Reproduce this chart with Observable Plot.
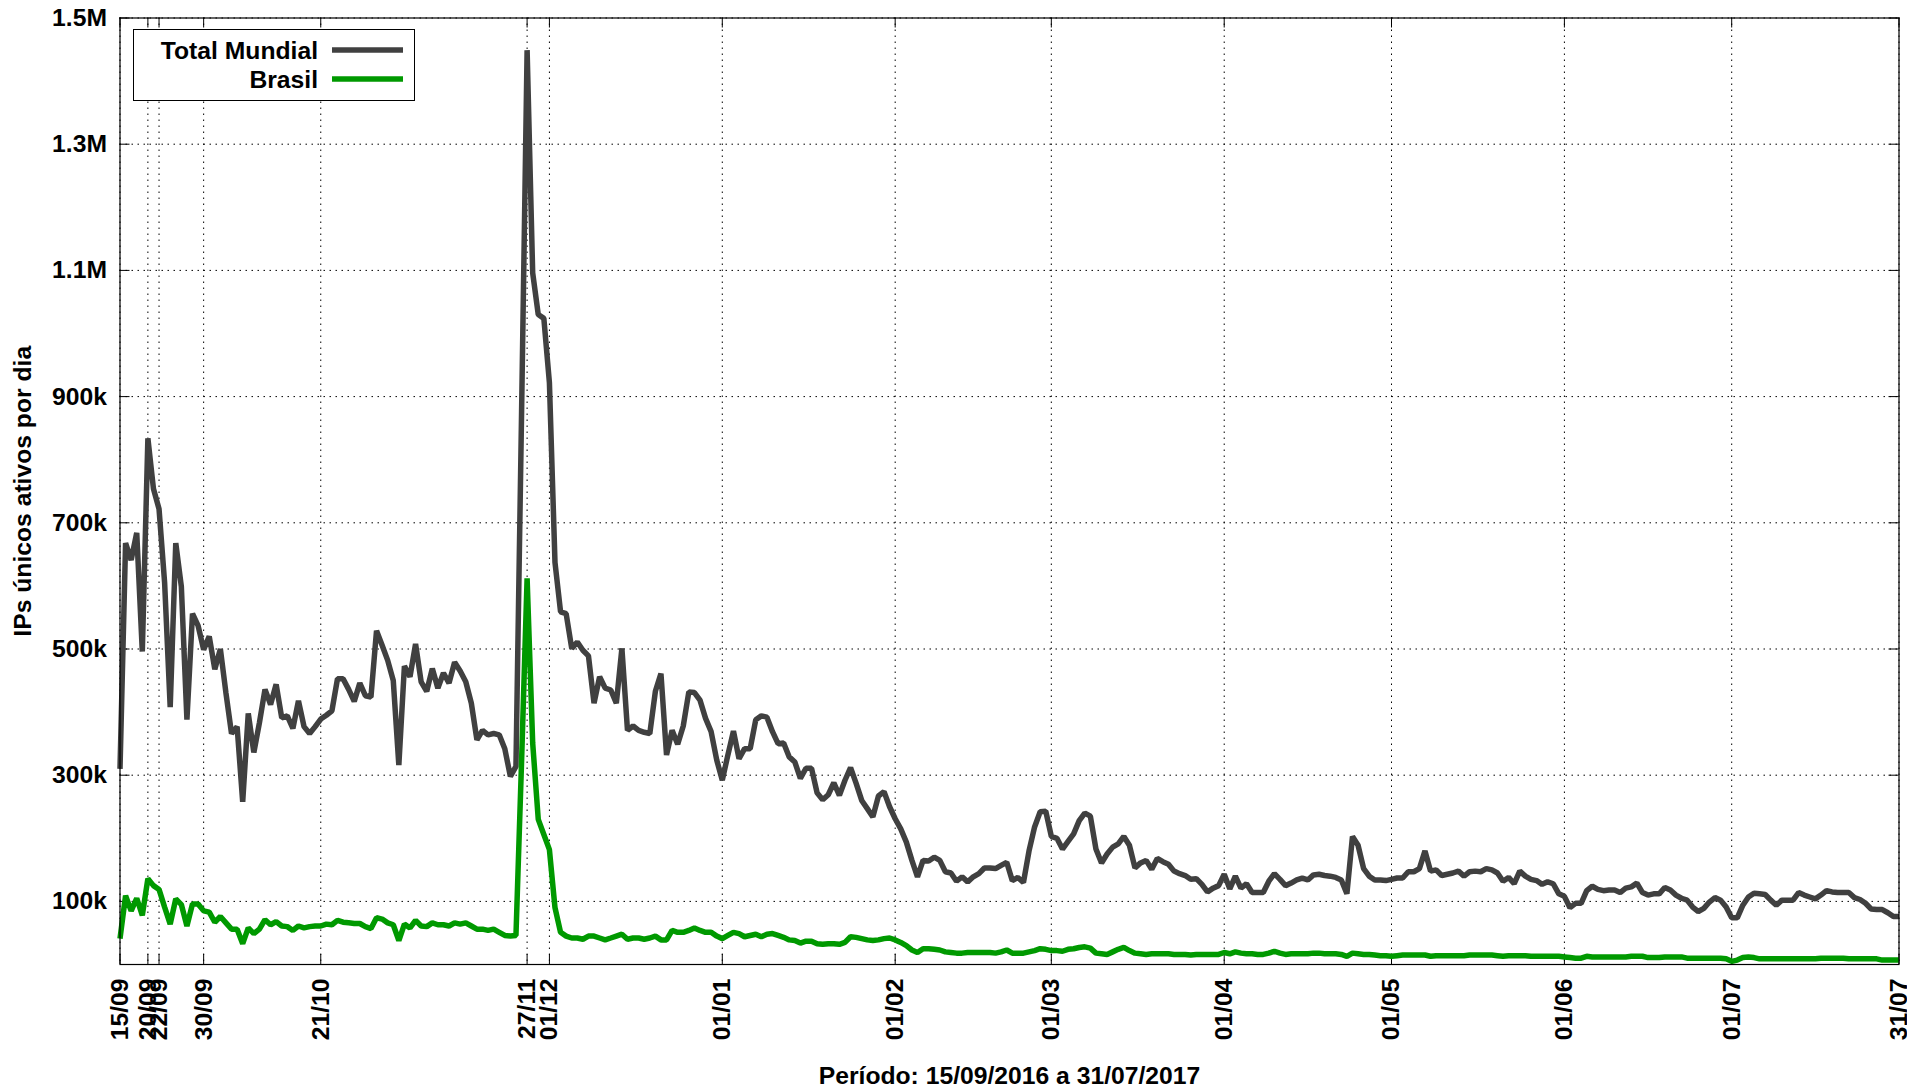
<!DOCTYPE html>
<html><head><meta charset="utf-8">
<script src="https://cdn.jsdelivr.net/npm/d3@7"></script>
<script src="https://cdn.jsdelivr.net/npm/@observablehq/plot@0.6"></script>
<style>
html,body{margin:0;padding:0;background:#fff;overflow:hidden;}
#wrap{position:relative;width:1907px;height:1088px;}
#legend{position:absolute;left:133px;top:29px;}
</style></head><body><div id="wrap"></div>
<script>
// ---- data (daily values, thousands of unique IPs, starting 15/09/2016) ----
const startDate = "2016-09-15";
const seriesNames = ["Total Mundial", "Brasil"];
const seriesColors = ["#404040", "#009900"];
const unit = 1000;

const totalMundialK = [
310,668,641,684,496,834,754,722,605,408,668,599,388,556,537,499,520,468,500,430,
366,377,258,398,336,383,436,412,444,391,394,374,418,377,366,377,389,395,402,453,
453,436,417,446,426,424,529,506,482,450,316,473,456,508,448,433,469,438,462,446,
479,465,448,414,356,371,364,366,364,342,298,314,870,1449,1096,1030,1024,922,637,559,
556,501,511,498,489,414,456,438,435,414,501,371,378,371,368,366,433,461,332,371,
349,378,432,431,419,390,369,324,292,332,370,326,342,342,388,394,392,369,350,351,
329,321,295,311,311,272,261,269,288,268,292,312,287,260,247,234,267,274,250,231,
215,194,165,139,165,164,170,165,147,145,132,139,131,139,144,153,153,152,157,162,
133,138,130,180,218,242,243,203,200,183,195,207,228,240,235,183,161,175,186,191,
203,189,153,161,165,151,168,163,159,148,144,141,135,136,127,115,121,125,143,120,
140,121,128,114,114,114,132,144,135,125,129,134,137,134,142,143,141,140,138,134,
112,203,189,152,140,134,134,133,135,137,137,147,147,152,180,148,150,141,143,145,
148,140,147,148,147,152,150,145,132,138,128,148,140,135,133,127,131,128,112,108,
90,97,97,117,124,119,117,118,118,114,121,123,129,114,110,112,112,122,118,110,
105,102,91,84,89,99,106,102,91,74,74,94,107,113,112,111,102,94,102,102,
102,114,110,107,104,110,117,115,114,114,114,106,103,97,88,87,87,82,76,76
];

const brasilK = [
41,109,85,105,78,136,125,119,91,64,104,95,61,96,96,85,83,67,76,66,
56,56,33,58,49,56,71,63,68,61,60,54,61,58,60,61,61,64,63,70,
67,66,65,65,60,57,74,72,66,63,38,64,58,70,61,60,66,63,63,61,
66,64,66,61,56,56,54,56,51,46,45,46,320,612,351,230,206,182,90,51,
45,42,42,40,45,45,42,39,42,45,48,40,42,42,40,42,45,39,39,54,
51,51,54,58,54,51,51,45,41,46,51,49,44,46,48,44,48,49,46,43,
39,38,34,37,37,33,32,33,33,32,35,44,43,41,39,38,39,41,42,39,
35,30,23,19,25,25,24,23,20,19,18,18,19,19,19,19,19,18,20,23,
18,18,18,20,22,25,24,22,22,21,24,25,27,28,26,18,17,16,20,24,
27,22,18,17,16,17,17,17,17,16,16,16,15,16,16,16,16,16,19,17,
20,18,17,17,16,16,18,21,18,16,17,17,17,17,18,18,17,17,17,16,
13,18,17,16,16,15,14,14,13,14,15,15,15,15,15,13,14,14,14,14,
14,14,15,15,15,15,15,14,13,14,14,14,14,13,13,13,13,13,13,12,
11,10,10,13,12,12,12,12,12,12,12,13,13,13,11,11,11,12,12,12,
12,10,10,10,10,10,10,10,9,5,7,11,12,11,9,9,9,9,9,9,
9,9,9,9,9,10,10,10,10,10,9,9,9,9,9,9,7,7,7,7
];

const xTickDates = ["2016-09-15","2016-09-20","2016-09-22","2016-09-30","2016-10-21","2016-11-27","2016-12-01",
  "2017-01-01","2017-02-01","2017-03-01","2017-04-01","2017-05-01","2017-06-01","2017-07-01","2017-07-31"];
const xTickLabels = ["15/09","20/09","22/09","30/09","21/10","27/11","01/12",
  "01/01","01/02","01/03","01/04","01/05","01/06","01/07","31/07"];
const yTicks = [100000,300000,500000,700000,900000,1100000,1300000,1500000];
const yTickLabels = ["100k","300k","500k","700k","900k","1.1M","1.3M","1.5M"];
const yTitle = "IPs únicos ativos por dia";
const xTitle = "Período: 15/09/2016 a 31/07/2017";

// ---- build table ----
const day0 = new Date(startDate + "T00:00:00Z");
const dateOf = i => d3.utcDay.offset(day0, i);
const rows = [];
[totalMundialK, brasilK].forEach((arr, s) => {
  arr.forEach((v, i) => rows.push({date: dateOf(i), value: v * unit, series: seriesNames[s]}));
});
const tickDates = xTickDates.map(s => new Date(s + "T00:00:00Z"));
const xDomain = [day0, dateOf(totalMundialK.length - 1)];
const yMax = yTicks[yTicks.length - 1];

const font = "'Liberation Sans', Arial, sans-serif";
const fontSize = "24.7px";
const lineW = 5.5;
const grid = {stroke: "#000", strokeOpacity: 1, strokeWidth: 1, strokeDasharray: "1.5,4.5"};
const tick = {stroke: "#000", strokeWidth: 1};

const chart = Plot.plot({
  width: 1907,
  height: 1088,
  marginLeft: 119.5,
  marginRight: 8.5,
  marginTop: 17.5,
  marginBottom: 124,
  style: {fontFamily: font, fontSize: fontSize, fontWeight: "bold", background: "#fff", color: "#000"},
  x: {type: "utc", domain: xDomain},
  y: {domain: [0, yMax]},
  color: {domain: seriesNames, range: seriesColors},
  marks: [
    Plot.gridX(tickDates, grid),
    Plot.gridY(yTicks, grid),
    Plot.ruleX(tickDates, {x: d => d, y1: 0, y2: 0, insetTop: -10, ...tick}),
    Plot.ruleX(tickDates, {x: d => d, y1: yMax, y2: yMax, insetBottom: -10, ...tick}),
    Plot.ruleY(yTicks, {y: d => d, x1: xDomain[0], x2: xDomain[0], insetRight: -10, ...tick}),
    Plot.ruleY(yTicks, {y: d => d, x1: xDomain[1], x2: xDomain[1], insetLeft: -10, ...tick}),
    Plot.axisX(tickDates, {tickSize: 0, tickPadding: 14, tickRotate: -90, tickFormat: (d, i) => xTickLabels[i], label: null}),
    Plot.axisY(yTicks, {tickSize: 0, tickPadding: 13, tickFormat: (d, i) => yTickLabels[i], label: null}),
    Plot.line(rows, {x: "date", y: "value", z: "series", stroke: "series", strokeWidth: lineW, strokeLinejoin: "miter", strokeLinecap: "butt"}),
    Plot.frame({stroke: "#000", strokeWidth: 1.2}),
    Plot.text([xTitle], {text: d => d, frameAnchor: "bottom", textAnchor: "middle", lineAnchor: "bottom", dy: 119}),
    Plot.text([yTitle], {text: d => d, frameAnchor: "left", textAnchor: "middle", rotate: -90, lineAnchor: "bottom", dx: -89})
  ]
});
const wrap = document.getElementById("wrap");
wrap.appendChild(chart);

// ---- legend (boxed, top-left inside plot) ----
const leg = d3.select(wrap).append("svg").attr("id", "legend")
  .attr("width", 283).attr("height", 73)
  .style("font-family", font).style("font-size", fontSize).style("font-weight", "bold");
leg.append("rect").attr("x", 0.5).attr("y", 0.5).attr("width", 281).attr("height", 71)
  .attr("fill", "#fff").attr("stroke", "#000").attr("stroke-width", 1);
seriesNames.forEach((name, i) => {
  const cy = 21 + i * 29;
  leg.append("text").attr("x", 185).attr("y", cy + 8.5).attr("text-anchor", "end").attr("fill", "#000").text(name);
  leg.append("line").attr("x1", 199).attr("x2", 270).attr("y1", cy).attr("y2", cy)
    .attr("stroke", seriesColors[i]).attr("stroke-width", lineW);
});
</script></body></html>
